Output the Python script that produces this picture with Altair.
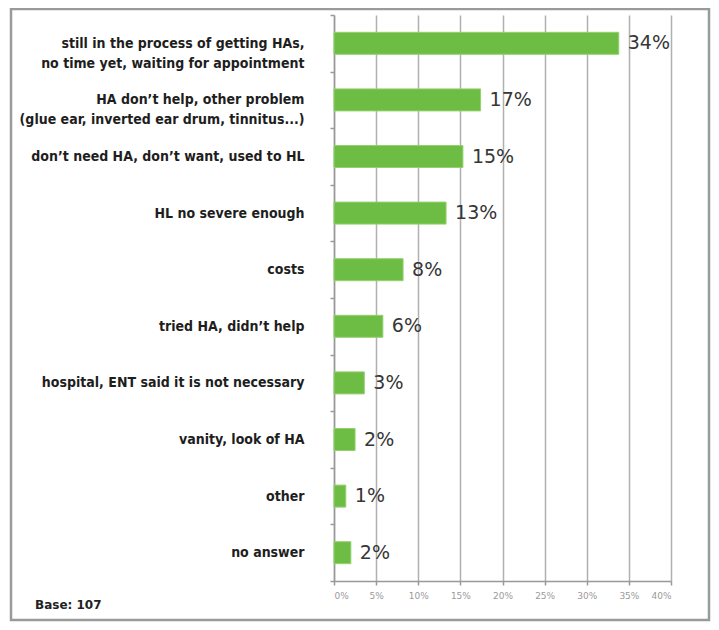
import altair as alt
import pandas as pd

categories = [
    "still in the process of getting HAs,|no time yet, waiting for appointment",
    "HA don\u2019t help, other problem|(glue ear, inverted ear drum, tinnitus...)",
    "don\u2019t need HA, don\u2019t want, used to HL",
    "HL no severe enough",
    "costs",
    "tried HA, didn\u2019t help",
    "hospital, ENT said it is not necessary",
    "vanity, look of HA",
    "other",
    "no answer",
]
values = [33.8, 17.4, 15.3, 13.3, 8.2, 5.8, 3.6, 2.5, 1.4, 2.0]
labels = ["34%", "17%", "15%", "13%", "8%", "6%", "3%", "2%", "1%", "2%"]
x_ticks = [0, 5, 10, 15, 20, 25, 30, 35, 40]
base_note = "Base: 107"

df = pd.DataFrame({"cat": categories, "val": values, "lab": labels})

label_font = "Liberation Sans Narrow, DejaVu Sans Condensed, Roboto Condensed, sans-serif"

y_enc = alt.Y(
    "cat:N",
    sort=categories,
    title=None,
    scale=alt.Scale(paddingInner=0, paddingOuter=0),
    axis=alt.Axis(
        labelExpr="split(datum.label, '|')",
        labelFont=label_font,
        labelFontWeight="bold",
        labelFontSize=14,
        labelColor="#1e1e1e",
        labelLineHeight=20,
        labelLimit=330,
        labelPadding=26,
        tickBand="extent",
        tickSize=4,
        tickColor="#999999",
        tickWidth=1.5,
        domainColor="#999999",
        domainWidth=1.5,
        grid=False,
    ),
)

x_enc = alt.X(
    "val:Q",
    title=None,
    scale=alt.Scale(domain=[0, 40], nice=False),
    axis=alt.Axis(
        values=x_ticks,
        labelExpr="datum.value + '%'",
        labelFont="DejaVu Sans",
        labelFontSize=9,
        labelColor="#9a9a9a",
        labelPadding=6,
        tickSize=4,
        tickColor="#999999",
        tickWidth=1.5,
        domainColor="#999999",
        domainWidth=1.5,
        grid=True,
        gridColor="#b0b0b0",
        gridWidth=1.5,
    ),
)

bars = alt.Chart(df).mark_bar(
    size=22, color="#6dbd44", stroke="#95d070", strokeWidth=1
).encode(x=x_enc, y=y_enc)

texts = alt.Chart(df).mark_text(
    align="left", baseline="middle", dx=9, font="DejaVu Sans", fontSize=19, color="#363636"
).encode(x="val:Q", y=alt.Y("cat:N", sort=categories), text="lab:N")

frame = alt.Chart(alt.Data(values=[{"a": 1}])).mark_rect(
    filled=False, stroke="#9a9a9a", strokeWidth=2.5
).encode(
    x=alt.value(-323), x2=alt.value(375), y=alt.value(-6), y2=alt.value(605)
)

note = alt.Chart(alt.Data(values=[{"t": base_note}])).mark_text(
    align="left", baseline="middle", font="DejaVu Sans", fontWeight="bold", fontSize=12, color="#222222"
).encode(x=alt.value(-299), y=alt.value(590), text="t:N")

chart = alt.layer(frame, bars, texts, note).properties(
    width=337,
    height=566,
    autosize=alt.AutoSizeParams(type="none"),
    padding={"left": 326, "top": 7, "right": 40, "bottom": 41},
).configure_view(stroke=None)

chart.save("out.html", embed_options={"renderer": "svg", "actions": False})
